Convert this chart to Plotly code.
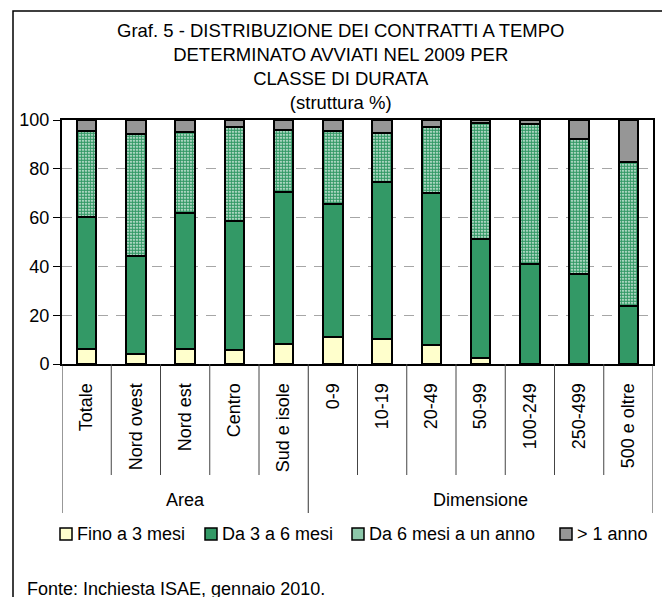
import plotly.graph_objects as go

categories = ["Totale", "Nord ovest", "Nord est", "Centro", "Sud e isole",
              "0-9", "10-19", "20-49", "50-99", "100-249", "250-499", "500 e oltre"]
groups = ["Area", "Dimensione"]
group_sizes = [5, 7]

series_names = ["Fino a 3 mesi", "Da 3 a 6 mesi", "Da 6 mesi a un anno", "> 1 anno"]
fino_3_mesi = [6.2, 4.2, 6.2, 5.8, 8.3, 11.0, 10.2, 7.7, 2.4, 0.0, 0.0, 0.0]
da_3_a_6_mesi = [54.0, 40.1, 55.6, 53.0, 62.0, 54.6, 64.5, 62.5, 48.9, 40.8, 37.0, 23.8]
da_6_mesi_a_un_anno = [35.2, 50.0, 33.1, 38.2, 25.7, 29.8, 19.9, 26.8, 47.4, 57.6, 55.4, 58.9]
oltre_1_anno = [4.6, 5.7, 5.1, 3.0, 4.0, 4.6, 5.4, 3.0, 1.3, 1.6, 7.6, 17.3]

y_ticks = [0, 20, 40, 60, 80, 100]

# page has an 8px body margin: figure occupies page pixels 8..670, 8..597
OFF = 8
W, H = 670 - OFF, 597 - OFF
L, R, T, B = 54, 17, 112, 233
PW = W - L - R
PH = H - T - B


def xp(page_px):
    return (page_px - OFF - L) / PW


def yp(page_py):
    return (H - B - (page_py - OFF)) / PH


FONT = "Liberation Sans, Arial, sans-serif"
line = dict(color="black", width=2)
colors = ["#FFFFCC", "#339966", "#339966", "#969696"]

fig = go.Figure()
fig.add_trace(go.Bar(x=categories, y=fino_3_mesi, name=series_names[0],
                     marker=dict(color=colors[0], line=line)))
fig.add_trace(go.Bar(x=categories, y=da_3_a_6_mesi, name=series_names[1],
                     marker=dict(color=colors[1], line=line)))
fig.add_trace(go.Bar(x=categories, y=da_6_mesi_a_un_anno, name=series_names[2],
                     marker=dict(color="white", line=line,
                                 pattern=dict(shape=".", fgcolor="#339966", bgcolor="white",
                                              size=3, solidity=0.75, fillmode="replace"))))
fig.add_trace(go.Bar(x=categories, y=oltre_1_anno, name=series_names[3],
                     marker=dict(color=colors[3], line=line)))

shapes = []
n = len(categories)
bounds = [0]
for s in group_sizes:
    bounds.append(bounds[-1] + s)
for i in range(1, n):
    if i in bounds:
        continue
    shapes.append(dict(type="line", xref="x", yref="paper", x0=i - 0.5, x1=i - 0.5,
                       y0=0, y1=yp(475), line=dict(color="#444444", width=1)))
for b in bounds:
    shapes.append(dict(type="line", xref="x", yref="paper", x0=b - 0.5, x1=b - 0.5,
                       y0=0, y1=yp(513), line=dict(color="#333333", width=1)))
# outer frame
shapes.append(dict(type="rect", xref="paper", yref="paper", x0=xp(13), x1=xp(666),
                   y0=yp(610), y1=yp(11), line=dict(color="black", width=1.5),
                   layer="below"))

annotations = []
for gi, g in enumerate(groups):
    annotations.append(dict(text=g, xref="x", yref="paper",
                            x=(bounds[gi] + bounds[gi + 1] - 1) / 2, y=yp(500),
                            showarrow=False, font=dict(size=18, color="black", family=FONT),
                            xanchor="center", yanchor="middle"))

# custom legend
legend_sym_x = [60, 205, 352, 560]
legend_fill = ["#FFFFCC", "#339966", "#8CC7A9", "#969696"]
for k, name in enumerate(series_names):
    x0 = legend_sym_x[k]
    shapes.append(dict(type="rect", xref="paper", yref="paper",
                       x0=xp(x0), x1=xp(x0 + 12), y0=yp(540), y1=yp(528),
                       fillcolor=legend_fill[k], line=dict(color="black", width=1.5)))
    annotations.append(dict(text=name, xref="paper", yref="paper", x=xp(x0 + 15), y=yp(534),
                            showarrow=False, xanchor="left", yanchor="middle",
                            font=dict(size=18, color="black", family=FONT)))

annotations.append(dict(
    text="Graf. 5 - DISTRIBUZIONE DEI CONTRATTI A TEMPO<br>DETERMINATO AVVIATI NEL 2009 PER<br>CLASSE DI DURATA<br>(struttura %)",
    xref="paper", yref="paper", x=xp(340), y=yp(66), showarrow=False,
    font=dict(size=18.5, color="black", family=FONT), xanchor="center", yanchor="middle"))
annotations.append(dict(text="Fonte: Inchiesta ISAE, gennaio 2010.", xref="paper", yref="paper",
                        x=xp(25), y=yp(589), showarrow=False, xanchor="left", yanchor="middle",
                        font=dict(size=18, color="black", family=FONT)))

fig.update_layout(
    width=W, height=H,
    margin=dict(l=L, r=R, t=T, b=B, pad=0),
    barmode="stack", bargap=0.6,
    paper_bgcolor="white", plot_bgcolor="white",
    font=dict(family=FONT, size=18, color="black"),
    showlegend=False,
    shapes=shapes, annotations=annotations,
    xaxis=dict(type="category", range=[-0.5, n - 0.5], tickangle=-90,
               showline=True, mirror=True, linecolor="black", linewidth=2,
               ticks="outside", ticklen=10, tickcolor="rgba(0,0,0,0)",
               showgrid=False, tickfont=dict(size=18)),
    yaxis=dict(range=[0, 100], tickvals=y_ticks, showline=True, mirror=True,
               linecolor="black", linewidth=2, ticks="outside", ticklen=7,
               tickcolor="black", showgrid=True, gridcolor="#A6A6A6", gridwidth=1,
               griddash="10px,8px", zeroline=False, tickfont=dict(size=18)),
)

fig.write_html("out.html")
